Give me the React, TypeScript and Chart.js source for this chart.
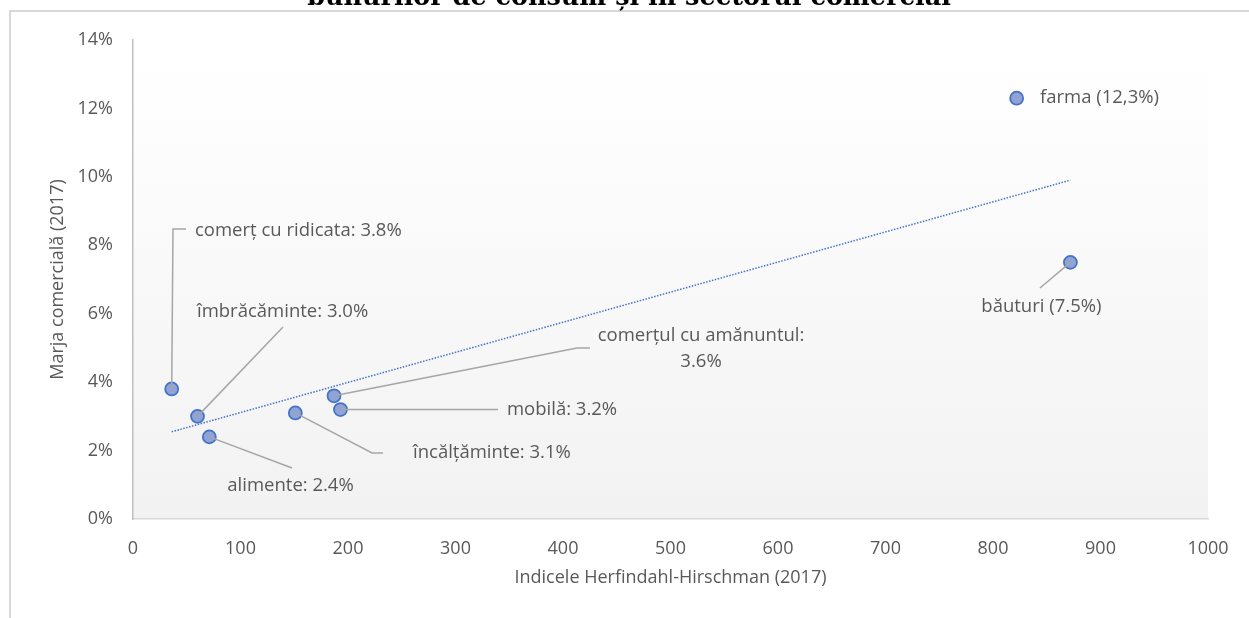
import React, { useEffect, useRef } from "react";
import { Chart, registerables } from "chart.js";

Chart.register(...registerables);

// ---------- data ----------
const categories = [
  "comerț cu ridicata",
  "îmbrăcăminte",
  "alimente",
  "încălțăminte",
  "comerțul cu amănuntul",
  "mobilă",
  "farma",
  "băuturi",
];
const hhiValues = [36, 60, 71, 151, 187, 193, 822, 872];
const marginValues = [3.8, 3.0, 2.4, 3.1, 3.6, 3.2, 12.3, 7.5];
const pointLabels = [
  "comerț cu ridicata: 3.8%",
  "îmbrăcăminte: 3.0%",
  "alimente: 2.4%",
  "încălțăminte: 3.1%",
  "comerțul cu amănuntul:\n3.6%",
  "mobilă: 3.2%",
  "farma (12,3%)",
  "băuturi (7.5%)",
];
const titleText = "bunurilor de consum și în sectorul comercial";
const xTitle = "Indicele Herfindahl-Hirschman (2017)";
const yTitle = "Marja comercială (2017)";

// ---------- layout / style ----------
const W = 1249;
const H = 618;
const FONT = '"Open Sans", "Noto Sans", sans-serif';
const TEXT = "#595959";
const LEADER = "#A6A6A6";

type LabelLayout = {
  leader: [number, number][];
  text: [number, number];
  align: CanvasTextAlign;
};
// offsets in pixels relative to each point
const labelLayout: LabelLayout[] = [
  { leader: [[1.3, -160], [14.3, -160]], text: [23.3, -158], align: "left" },
  { leader: [[85.5, -89.4]], text: [-0.5, -104.4], align: "left" },
  { leader: [[82.7, 31.1]], text: [81.2, 49.1], align: "center" },
  { leader: [[76.7, 40.1], [87.7, 40.1]], text: [117.7, 40.1], align: "left" },
  { leader: [[243, -47.8], [256, -47.8]], text: [367, -59.8], align: "center" },
  { leader: [[157.5, 0]], text: [166.5, 0], align: "left" },
  { leader: [], text: [23.3, 0], align: "left" },
  { leader: [[-30.4, 25.6]], text: [-29, 44.6], align: "center" },
];

function linearFit(xs: number[], ys: number[]) {
  const n = xs.length;
  const mx = xs.reduce((a, b) => a + b, 0) / n;
  const my = ys.reduce((a, b) => a + b, 0) / n;
  let sxy = 0;
  let sxx = 0;
  for (let i = 0; i < n; i++) {
    sxy += (xs[i] - mx) * (ys[i] - my);
    sxx += (xs[i] - mx) * (xs[i] - mx);
  }
  const slope = sxy / sxx;
  return { slope, intercept: my - slope * mx };
}

export default function App() {
  const ref = useRef<HTMLCanvasElement>(null);

  useEffect(() => {
    const canvas = ref.current;
    if (!canvas) return;
    const fit = linearFit(hhiValues, marginValues);
    const xMin = Math.min(...hhiValues);
    const xMax = Math.max(...hhiValues);

    const decor = {
      id: "decor",
      beforeDraw(chart: any) {
        const { ctx, chartArea: a } = chart;
        ctx.save();
        ctx.fillStyle = "#FFFFFF";
        ctx.fillRect(0, 0, W, H);
        // plot area background gradient
        const top = a.top + 21;
        const g = ctx.createLinearGradient(0, top, 0, a.bottom);
        g.addColorStop(0, "#FFFFFF");
        g.addColorStop(1, "#F2F2F2");
        ctx.fillStyle = g;
        ctx.fillRect(a.left, top, a.right - a.left, a.bottom - top);
        // outer frame
        ctx.strokeStyle = "#D9D9D9";
        ctx.lineWidth = 2;
        ctx.beginPath();
        ctx.moveTo(10, H);
        ctx.lineTo(10, 11);
        ctx.lineTo(W, 11);
        ctx.stroke();
        // cut-off title
        ctx.fillStyle = "#000000";
        ctx.textAlign = "center";
        ctx.textBaseline = "alphabetic";
        ctx.font = 'bold 28px "DejaVu Serif", "Liberation Serif", serif';
        const m = ctx.measureText(titleText).width;
        const size = (28 * 644) / m;
        ctx.font = `bold ${size}px "DejaVu Serif", "Liberation Serif", serif`;
        ctx.fillText(titleText, 629, 5);
        ctx.restore();
      },
      afterDatasetsDraw(chart: any) {
        const { ctx } = chart;
        const xs = chart.scales.x;
        const ys = chart.scales.y;
        ctx.save();
        for (let i = 0; i < categories.length; i++) {
          const px = xs.getPixelForValue(hhiValues[i]);
          const py = ys.getPixelForValue(marginValues[i]);
          const L = labelLayout[i];
          if (L.leader.length) {
            ctx.strokeStyle = LEADER;
            ctx.lineWidth = 1.5;
            ctx.beginPath();
            ctx.moveTo(px, py);
            for (const [dx, dy] of L.leader) ctx.lineTo(px + dx, py + dy);
            ctx.stroke();
          }
          ctx.fillStyle = TEXT;
          ctx.font = `18.5px ${FONT}`;
          ctx.textAlign = L.align;
          ctx.textBaseline = "middle";
          const lines = pointLabels[i].split("\n");
          lines.forEach((ln, k) => {
            ctx.fillText(ln, px + L.text[0], py + L.text[1] + k * 26);
          });
        }
        ctx.restore();
      },
    };

    const chart = new Chart(canvas, {
      type: "scatter",
      data: {
        datasets: [
          {
            type: "scatter",
            label: "Marja",
            data: hhiValues.map((x, i) => ({ x, y: marginValues[i] })),
            backgroundColor: "#8FA3D6",
            borderColor: "#4472C4",
            borderWidth: 1.75,
            pointRadius: 6.5,
            pointHoverRadius: 6.5,
            order: 1,
          },
          {
            type: "line",
            label: "Trend",
            data: [
              { x: xMin, y: fit.intercept + fit.slope * xMin },
              { x: xMax, y: fit.intercept + fit.slope * xMax },
            ],
            borderColor: "#4472C4",
            borderWidth: 1.5,
            borderDash: [1.5, 1.5],
            pointRadius: 0,
            fill: false,
            order: 2,
          } as any,
        ],
      },
      options: {
        animation: false,
        responsive: false,
        devicePixelRatio: 1,
        events: [],
        layout: { padding: { left: 0, right: W - 1208, top: 40, bottom: 0 } },
        plugins: { legend: { display: false }, tooltip: { enabled: false } },
        scales: {
          x: {
            type: "linear",
            min: 0,
            max: 1000,
            ticks: {
              stepSize: 100,
              color: TEXT,
              font: { family: FONT, size: 18 },
              padding: 11,
              maxRotation: 0,
              autoSkip: false,
              callback: (v: any) => `${v}`,
            },
            grid: { display: false },
            border: { display: true, color: "#D9D9D9", width: 1.5 },
            title: {
              display: true,
              text: xTitle,
              color: TEXT,
              font: { family: FONT, size: 18 },
              padding: { top: 0, bottom: 29 },
            },
            afterFit: (s: any) => {
              s.height = H - 519;
            },
          },
          y: {
            type: "linear",
            min: 0,
            max: 14,
            ticks: {
              stepSize: 2,
              color: TEXT,
              font: { family: FONT, size: 18 },
              padding: 12,
              callback: (v: any) => `${v}%`,
            },
            grid: { display: false },
            border: { display: true, color: "#BFBFBF", width: 1.5 },
            title: {
              display: true,
              text: yTitle,
              color: TEXT,
              font: { family: FONT, size: 18 },
              padding: { top: 47, bottom: 0 },
            },
            afterFit: (s: any) => {
              s.width = 133;
            },
          },
        },
      },
      plugins: [decor],
    });

    return () => chart.destroy();
  }, []);

  return (
    <div style={{ position: "absolute", left: 0, top: 0, width: W, height: H, overflow: "hidden" }}>
      <canvas ref={ref} width={W} height={H} style={{ display: "block", width: W, height: H }} />
    </div>
  );
}
